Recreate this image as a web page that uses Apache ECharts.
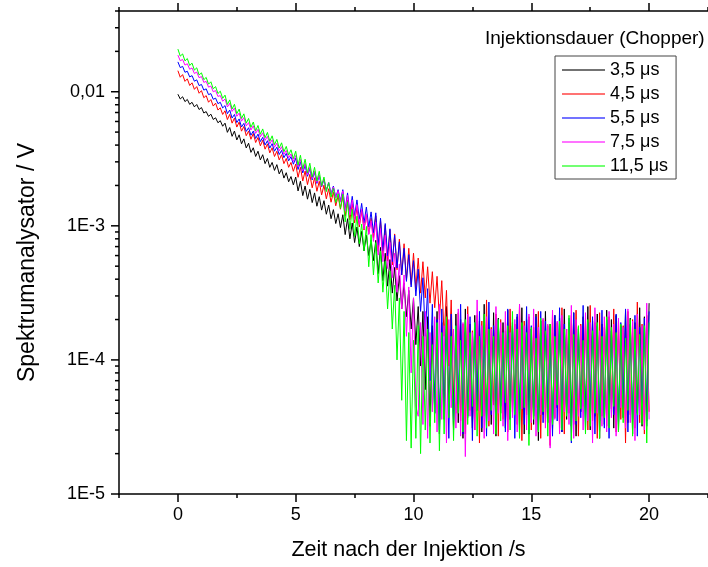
<!DOCTYPE html>
<html><head><meta charset="utf-8">
<script src="https://cdn.jsdelivr.net/npm/echarts@6/dist/echarts.min.js"></script>
<style>html,body{margin:0;padding:0;background:#fff}#c{width:708px;height:567px}</style>
</head><body><div id="c"></div>
<script>
// time after injection (s)
const times = [
0,0.1,0.2,0.3,0.4,0.5,0.6,0.7,0.8,0.9,1,1.1,1.2,1.3,1.4,1.5,1.6,1.7,1.8,1.9,
2,2.1,2.2,2.3,2.4,2.5,2.6,2.7,2.8,2.9,3,3.1,3.2,3.3,3.4,3.5,3.6,3.7,3.8,3.9,
4,4.1,4.2,4.3,4.4,4.5,4.6,4.7,4.8,4.9,5,5.1,5.2,5.3,5.4,5.5,5.6,5.7,5.8,5.9,
6,6.1,6.2,6.3,6.4,6.5,6.6,6.7,6.8,6.9,7,7.1,7.2,7.3,7.4,7.5,7.6,7.7,7.8,7.9,
8,8.1,8.2,8.3,8.4,8.5,8.6,8.7,8.8,8.9,9,9.1,9.2,9.3,9.4,9.5,9.6,9.7,9.8,9.9,
10,10.1,10.2,10.3,10.4,10.5,10.6,10.7,10.8,10.9,11,11.1,11.2,11.3,11.4,11.5,11.6,11.7,11.8,11.9,
12,12.1,12.2,12.3,12.4,12.5,12.6,12.7,12.8,12.9,13,13.1,13.2,13.3,13.4,13.5,13.6,13.7,13.8,13.9,
14,14.1,14.2,14.3,14.4,14.5,14.6,14.7,14.8,14.9,15,15.1,15.2,15.3,15.4,15.5,15.6,15.7,15.8,15.9,
16,16.1,16.2,16.3,16.4,16.5,16.6,16.7,16.8,16.9,17,17.1,17.2,17.3,17.4,17.5,17.6,17.7,17.8,17.9,
18,18.1,18.2,18.3,18.4,18.5,18.6,18.7,18.8,18.9,19,19.1,19.2,19.3,19.4,19.5,19.6,19.7,19.8,19.9,
20];
const seriesNames = ['3,5 \u03bcs','4,5 \u03bcs','5,5 \u03bcs','7,5 \u03bcs','11,5 \u03bcs'];
const seriesColors = ['#000000','#ff0000','#0000ff','#ff00ff','#00ff00'];
// Spektrumanalysator readings in microvolts
const uv35 = [
9580,8830,9170,8440,8760,8050,8340,7710,8030,7370,
7620,6940,7110,6550,6800,6210,6390,5870,6080,5530,
5830,4980,5410,4650,5090,4370,4770,4090,4450,3810,
4130,3530,3820,3290,3600,3100,3390,2910,3180,2730,
2970,2590,2860,2440,2650,2270,2490,2130,2330,2020,
2310,1820,2150,1680,1980,1580,1870,1490,1760,1400,
1650,1310,1540,1220,1430,1130,1320,1040,1230,970,
1210,860,1130,800,1050,750,980,700,910,650,
850,600,780,550,780,440,690,390,625,355,
560,315,490,275,425,240,375,210,330,170,
290,130,250,90,230,60,
210,32,180,40,230,28,190,36,250,45,
170,30,220,34,200,26,240,38,185,31,
215,42,195,29,260,35,175,33,225,27,
205,40,190,31,235,36,180,48,210,30,
245,28,200,37,170,33,220,25,195,39,
230,34,185,30,215,44,205,29,240,36,
190,32,225,27,175,41,210,35,250,30,
195,38,220,26,185,33,235,43,200,31,
215,29,180,37,230,34,205,28,190,40,
245,32,210,35,265];
const uv45 = [
14350,12820,13420,11950,12480,11140,11650,10420,10920,9740,
10190,9020,9360,8350,8740,7820,8220,7300,7590,6770,
7210,6200,6780,5830,6360,5450,5940,5080,5510,4700,
5090,4420,4880,4180,4560,3950,4350,3730,4080,3500,
3820,3290,3600,3100,3390,2910,3180,2730,2970,2550,
2890,2300,2730,2160,2560,2030,2420,1920,2280,1810,
2150,1700,2010,1590,1890,1500,1780,1410,1670,1330,
1660,1180,1550,1110,1460,1050,1370,980,1290,930,
1220,870,1140,815,1190,645,1100,595,1010,545,
935,510,870,470,795,430,735,395,680,365,
625,340,575,315,540,290,495,265,455,245,
420,200,390,150,330,90,280,55,
40,
225,35,185,28,250,42,165,30,215,24,
195,38,280,32,175,46,220,27,200,36,
165,29,240,41,185,33,260,25,195,39,
210,30,175,44,230,26,200,34,180,23,
220,37,190,31,245,28,170,40,215,33,
235,27,185,45,205,30,255,35,190,26,
225,38,175,32,210,43,240,29,195,36,
180,24,230,39,200,31,270,34,185,28,
215,41];
const uv55 = [
16690,15130,15450,13970,14210,12900,13180,11980,12260,11110,
11330,10280,10510,9510,9680,8780,8960,8150,8340,7570,
7880,6860,7300,6370,6770,5890,6270,5460,5810,5060,
5390,4740,5090,4480,4830,4250,4570,4010,4310,3800,
4100,3600,3860,3400,3650,3220,3470,3050,3280,2880,
3190,2630,3000,2480,2830,2340,2670,2200,2510,2070,
2370,1950,2220,1840,2100,1730,1980,1630,1860,1540,
1860,1330,1760,1260,1660,1190,1560,1120,1470,1050,
1380,980,1270,890,1250,715,1140,650,1040,595,
950,540,850,485,760,430,680,385,610,350,
550,300,475,230,410,150,340,70,260,40,
200,30,240,40,170,26,220,35,180,47,
260,28,160,37,210,25,190,43,230,31,
170,27,270,39,180,32,200,45,160,29,
240,36,190,26,220,41,170,33,250,28,
180,38,210,30,230,34,195,42,175,27,
215,35,245,29,185,40,205,24,225,33,
170,37,255,30,190,44,210,28,180,35,
235,31,200,26,165,39,220,33,190,45,
240,29,185,36,215,27,175,42,205,32,
230];
const uv75 = [
18750,17020,17410,15810,16170,14700,15040,13680,14010,12710,
12980,11740,11950,10820,11020,9990,10200,9220,9370,8490,
8820,7700,8190,7130,7560,6560,6930,6030,6410,5560,
5880,5180,5570,4890,5250,4610,4940,4330,4650,4090,
4380,3850,4130,3620,3890,3410,3650,3210,3440,3020,
3340,2750,3120,2570,2920,2400,2730,2250,2560,2110,
2390,1970,2240,1840,2100,1720,1950,1610,1830,1500,
1820,1290,1690,1200,1560,1110,1440,1020,1330,945,
1230,860,1090,765,1060,605,950,540,850,480,
750,410,625,320,520,240,430,150,350,80,
290,45,
38,
190,33,230,26,160,41,210,29,260,36,
180,24,200,44,170,31,240,27,190,19,
220,38,160,30,280,42,180,26,210,35,
170,28,250,40,190,32,230,25,160,37,
200,29,260,43,180,30,220,34,240,27,
175,39,205,31,185,22,235,36,195,28,
215,41,170,33,255,26,200,38,180,30,
225,35,190,24,245,40,165,32,210,29,
230,37,185,27,205,44,175,31,240,34,
195,25,220,39,180,30,265,36];
const uv115 = [
20800,18430,19140,16990,17680,15700,16330,14500,15080,13340,
13830,12290,12790,11380,11860,10510,10920,9700,10090,8930,
9430,8040,8690,7430,8060,6860,7420,6320,6840,5830,
6320,5430,5940,5110,5600,4820,5280,4540,4970,4280,
4690,4030,4410,3800,4160,3570,3910,3370,3690,3170,
3600,2840,3360,2660,3140,2480,2930,2310,2730,2160,
2550,1990,2310,1800,2100,1640,1900,1490,1730,1350,
1720,1070,1510,940,1330,830,1180,735,1030,650,
990,495,860,430,750,375,650,320,545,240,
460,170,360,100,290,50,230,25,
160,22,140,26,180,20,150,30,170,24,
130,34,190,21,160,28,210,37,150,25,
180,40,140,29,200,33,160,45,190,27,
150,38,220,31,170,42,150,28,200,35,
160,48,180,30,230,39,170,26,190,44,
160,23,175,36,145,29,205,41,165,27,
185,33,150,46,195,30,170,38,215,25,
155,35,180,43,140,28,200,32,165,40,
190,26,150,37,210,31,175,45,160,29,
185,34,145,42,200,27,170,39,155,33,
180,24,190];
const seriesMicroVolts = [uv35, uv45, uv55, uv75, uv115];
const MICRO = 1e-6; // µV -> V
const xMajorTicks = [0,5,10,15,20];
const xMinorTicks = [-2.5,2.5,7.5,12.5,17.5,22.5];
const yMajorTicks = [1e-5,1e-4,1e-3,1e-2];
const yTickLabels = ['1E-5','1E-4','1E-3','0,01'];
const yMinorTicks = [2e-5,3e-5,4e-5,5e-5,6e-5,7e-5,8e-5,9e-5,
  2e-4,3e-4,4e-4,5e-4,6e-4,7e-4,8e-4,9e-4,
  2e-3,3e-3,4e-3,5e-3,6e-3,7e-3,8e-3,9e-3,
  2e-2,3e-2,4e-2];

const FONT = '"Liberation Sans", Arial, sans-serif';
const axisLineStyle = {color:'#000', width:1.5};
function xAx(pos, ticks, len, withLabels, showLine) {
  return {
    type:'value', position:pos, min:-2.5, max:22.5, gridIndex:0,
    axisLine:{show:showLine, onZero:false, lineStyle:axisLineStyle},
    axisTick:{show:true, customValues:ticks, length:len, lineStyle:axisLineStyle},
    axisLabel:{show:withLabels, customValues:ticks, fontSize:18, color:'#000', fontFamily:FONT, margin:12},
    splitLine:{show:false}
  };
}
const xAxes = [
  xAx('bottom', xMajorTicks, 8, true, true),
  xAx('bottom', xMinorTicks, 4, false, false),
  xAx('top', xMajorTicks, 8, false, true),
  xAx('top', xMinorTicks, 4, false, false)
];
Object.assign(xAxes[0], {
  name:'Zeit nach der Injektion /s', nameLocation:'middle', nameGap:45,
  nameTextStyle:{fontSize:21.5, color:'#000', fontFamily:FONT, padding:[0,10,0,0]}
});

const option = {
  animation:false,
  backgroundColor:'#fff',
  grid:{left:119, top:11, width:592, height:483, containLabel:false},
  title:{text:'Injektionsdauer (Chopper)', left:485, top:29, padding:0,
    textStyle:{fontSize:19, fontWeight:'normal', color:'#000', fontFamily:FONT}},
  legend:{
    orient:'vertical', left:555, top:56, padding:[5,8,4,7], itemGap:6,
    itemWidth:43, itemHeight:2, icon:'rect', borderColor:'#444', borderWidth:1,
    itemStyle:{opacity:0.55},
    textStyle:{fontSize:18, lineHeight:18, color:'#000', fontFamily:FONT},
    data:seriesNames
  },
  xAxis:xAxes,
  yAxis:{
    type:'log', logBase:10, min:1e-5, max:0.04, position:'left',
    axisLine:{show:true, onZero:false, lineStyle:axisLineStyle},
    axisTick:{show:false},
    splitLine:{show:false}, minorTick:{show:false},
    axisLabel:{fontSize:18, color:'#000', fontFamily:FONT, margin:14,
      formatter:function(v){
        for (let i=0;i<yMajorTicks.length;i++){
          if (Math.abs(v/yMajorTicks[i]-1) < 1e-6) return yTickLabels[i];
        }
        return '';
      }},
    name:'Spektrumanalysator / V', nameLocation:'middle', nameGap:80, nameRotate:90,
    nameTextStyle:{fontSize:23, color:'#000', fontFamily:FONT, padding:[0,20,0,0]}
  },
  series: seriesNames.map(function(n, k){
    return {
      name:n, type:'line', xAxisIndex:0, yAxisIndex:0,
      showSymbol:false, symbol:'none', sampling:null, large:false,
      color:seriesColors[k],
      lineStyle:{width:1, color:seriesColors[k]},
      emphasis:{disabled:true},
      data: times.map(function(t,i){ return [t, seriesMicroVolts[k][i] * MICRO]; })
    };
  })
};
const chart = echarts.init(document.getElementById('c'));
chart.setOption(option);
// y-axis ticks (decades long, 2..9 short) placed via the log axis scale
const axX = chart.convertToPixel({xAxisIndex:0}, -2.5);
const els = [];
yMajorTicks.forEach(function(v){
  const y = chart.convertToPixel({yAxisIndex:0}, v);
  els.push({type:'line', silent:true, shape:{x1:axX-8, y1:y, x2:axX, y2:y}, style:{stroke:'#000', lineWidth:1.5}});
});
yMinorTicks.forEach(function(v){
  const y = chart.convertToPixel({yAxisIndex:0}, v);
  els.push({type:'line', silent:true, shape:{x1:axX-4, y1:y, x2:axX, y2:y}, style:{stroke:'#000', lineWidth:1.5}});
});
chart.setOption({graphic:{elements:els}});
</script>
</body></html>
